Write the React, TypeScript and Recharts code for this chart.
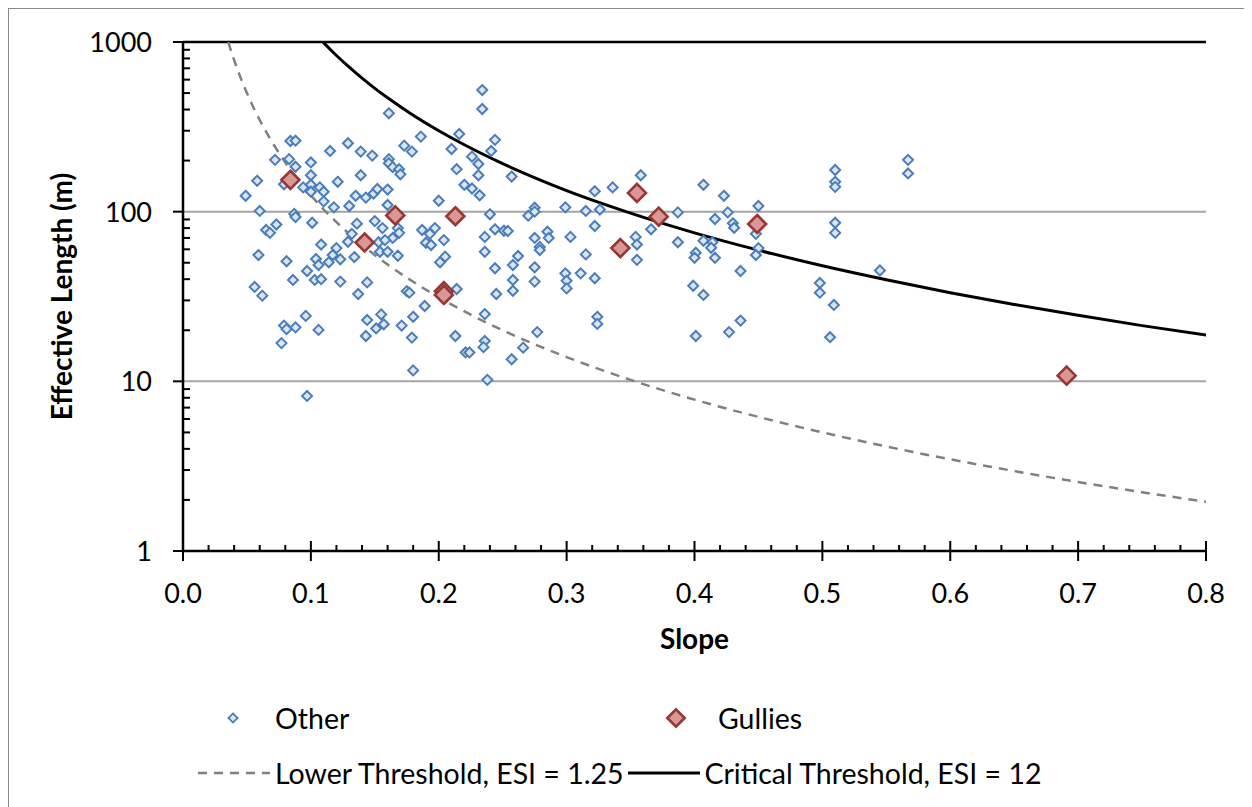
import React from 'react'
import { ComposedChart, Scatter, Line, XAxis, YAxis, ReferenceLine } from 'recharts'

// slope, effective length (m)
const otherPoints: [number, number][] = [
  [0.084, 261], [0.088, 262], [0.115, 228], [0.129, 253], [0.072, 202], [0.083, 204], [0.088, 184], [0.1, 195], [0.1, 164], [0.058, 152],
  [0.079, 145], [0.094, 139], [0.1, 144], [0.1, 131], [0.107, 139], [0.11, 131], [0.121, 150], [0.049, 124], [0.11, 115], [0.118, 106],
  [0.13, 108], [0.06, 101], [0.087, 97], [0.088, 93], [0.101, 86], [0.073, 84], [0.065, 78], [0.068, 75], [0.132, 74], [0.129, 66.5],
  [0.108, 64], [0.12, 61], [0.059, 55.5], [0.117, 55.5], [0.123, 52.4], [0.114, 50.3], [0.104, 52.6], [0.106, 48.5], [0.081, 51], [0.097, 44.7],
  [0.086, 39.6], [0.103, 39.6], [0.108, 40], [0.123, 38.7], [0.056, 36], [0.062, 32], [0.096, 24.3], [0.079, 21.3], [0.081, 20.3], [0.088, 20.8],
  [0.106, 20.1], [0.077, 16.8], [0.097, 8.2],
  [0.161, 380], [0.216, 287], [0.186, 277], [0.173, 245], [0.179, 226], [0.139, 226], [0.148, 214], [0.21, 234], [0.161, 204], [0.161, 193],
  [0.164, 183], [0.169, 178], [0.17, 166], [0.139, 164], [0.214, 178], [0.22, 144], [0.135, 124], [0.143, 121], [0.149, 128], [0.152, 136],
  [0.16, 135], [0.16, 109.5], [0.2, 116], [0.136, 85], [0.15, 88], [0.156, 80], [0.168, 80], [0.169, 75], [0.187, 78], [0.197, 80],
  [0.193, 74], [0.164, 70], [0.204, 68], [0.153, 66], [0.158, 68], [0.154, 58], [0.16, 58], [0.168, 55], [0.134, 54], [0.19, 65.6],
  [0.194, 63.6], [0.205, 54.3], [0.201, 50.3], [0.144, 38.3], [0.137, 32.7], [0.175, 34], [0.177, 33.3], [0.214, 35], [0.189, 27.8], [0.155, 24.8],
  [0.144, 23], [0.151, 20.5], [0.157, 21.7], [0.18, 24], [0.171, 21.3], [0.143, 18.5], [0.179, 18.1], [0.213, 18.5], [0.221, 14.8], [0.18, 11.6],
  [0.234, 521], [0.234, 403], [0.244, 265], [0.241, 228], [0.226, 211], [0.231, 191], [0.231, 164], [0.257, 161], [0.226, 137], [0.232, 125],
  [0.24, 96.5], [0.27, 94.7], [0.275, 105.5], [0.275, 100], [0.299, 106], [0.244, 78.7], [0.251, 77.2], [0.254, 76.9], [0.236, 71], [0.275, 70],
  [0.285, 76.2], [0.286, 70], [0.303, 71], [0.236, 58], [0.279, 62], [0.279, 59.4], [0.262, 54.8], [0.258, 48.5], [0.244, 46.4], [0.275, 47],
  [0.258, 39.6], [0.275, 38.7], [0.258, 34.2], [0.245, 32.7], [0.299, 43.3], [0.3, 39.2], [0.3, 35.3], [0.311, 43.3], [0.236, 24.9], [0.277, 19.5],
  [0.236, 17.3], [0.235, 15.9], [0.224, 14.8], [0.266, 15.8], [0.257, 13.5], [0.238, 10.2],
  [0.358, 164], [0.336, 139], [0.322, 132], [0.407, 144], [0.423, 124], [0.45, 108], [0.315, 101], [0.326, 103], [0.387, 99], [0.426, 99],
  [0.416, 90.5], [0.43, 85.4], [0.431, 80.4], [0.322, 82.3], [0.366, 78.7], [0.354, 71], [0.355, 64], [0.387, 66], [0.407, 67.4], [0.414, 66],
  [0.413, 61.3], [0.448, 74], [0.45, 61], [0.448, 55.5], [0.315, 56], [0.355, 52], [0.401, 57.3], [0.4, 53.5], [0.416, 53.5], [0.322, 40.5],
  [0.436, 44.7], [0.399, 36.6], [0.407, 32.3], [0.324, 24], [0.324, 21.8], [0.436, 22.8], [0.427, 19.5], [0.401, 18.5],
  [0.51, 176], [0.51, 150], [0.51, 140], [0.567, 202], [0.567, 168], [0.51, 86], [0.51, 75], [0.545, 45], [0.498, 38], [0.498, 33.3],
  [0.509, 28.2], [0.506, 18.2],
]

const gullyPoints: [number, number][] = [
  [0.084, 154], [0.166, 95], [0.213, 94], [0.142, 65.8], [0.204, 34], [0.204, 32.3],
  [0.355, 129], [0.372, 93.4], [0.342, 61], [0.449, 84.6], [0.691, 10.8],
]

// threshold curves
const lowerThreshold: [number, number][] = [
  [0.0354, 1000], [0.04, 781], [0.045, 617], [0.05, 500], [0.06, 347], [0.07, 255], [0.08, 195], [0.09, 154],
  [0.1, 125], [0.11, 103], [0.12, 86.8], [0.14, 63.8], [0.16, 48.8], [0.18, 38.6], [0.2, 31.25], [0.225, 24.7],
  [0.25, 20], [0.3, 13.9], [0.35, 10.2], [0.4, 7.8], [0.45, 6.17], [0.5, 5], [0.55, 4.13], [0.6, 3.47],
  [0.65, 2.96], [0.7, 2.55], [0.75, 2.22], [0.8, 1.95],
]

const criticalThreshold: [number, number][] = [
  [0.1095, 1000], [0.115, 907], [0.12, 833], [0.13, 710], [0.14, 612], [0.15, 533], [0.16, 469], [0.18, 370],
  [0.2, 300], [0.22, 248], [0.25, 192], [0.28, 153], [0.3, 133], [0.35, 98], [0.4, 75], [0.45, 59.3],
  [0.5, 48], [0.55, 39.7], [0.6, 33.3], [0.65, 28.4], [0.7, 24.5], [0.75, 21.3], [0.8, 18.75],
]

const xTicks = [
  0, 0.02, 0.04, 0.06, 0.08, 0.1, 0.12, 0.14, 0.16, 0.18, 0.2, 0.22, 0.24, 0.26, 0.28, 0.3, 0.32, 0.34, 0.36, 0.38, 0.4,
  0.42, 0.44, 0.46, 0.48, 0.5, 0.52, 0.54, 0.56, 0.58, 0.6, 0.62, 0.64, 0.66, 0.68, 0.7, 0.72, 0.74, 0.76, 0.78, 0.8,
]
const yTicks = [
  1, 2, 3, 4, 5, 6, 7, 8, 9, 10, 20, 30, 40, 50, 60, 70, 80, 90, 100,
  200, 300, 400, 500, 600, 700, 800, 900, 1000,
]
const yMajor = [1, 10, 100, 1000]

const toXY = (pts: [number, number][]) => pts.map(([x, y]) => ({ x, y }))

const FONT = 'Lato, "Open Sans", sans-serif'

const diamond = (r: number, fill: string, stroke: string, sw: number) => (props: any) => {
  const { cx, cy } = props
  if (cx == null || cy == null) return <g />
  return (
    <path
      d={`M${cx},${cy - r}L${cx + r},${cy}L${cx},${cy + r}L${cx - r},${cy}Z`}
      fill={fill}
      stroke={stroke}
      strokeWidth={sw}
    />
  )
}

const OtherShape = diamond(5, '#dce6f2', '#4a7ebb', 2)
const GullyShape = diamond(9, '#d99795', '#953735', 2.6)

const XTick = (props: any) => {
  const { x, y, payload } = props
  const v = payload.value as number
  const major = Math.abs(v * 10 - Math.round(v * 10)) < 1e-6
  return (
    <g>
      <line x1={x} x2={x} y1={y - (major ? 10 : 6)} y2={y + (major ? 10 : 0)} stroke="#000" strokeWidth={2} />
      {major && (
        <text x={x} y={y + 52} textAnchor="middle" fontSize={27} fill="#000" fontFamily={FONT}>
          {v.toFixed(1)}
        </text>
      )}
    </g>
  )
}

const YTick = (props: any) => {
  const { x, y, payload } = props
  const v = payload.value as number
  const major = yMajor.includes(v)
  return (
    <g>
      {major ? (
        <line x1={x - 10} x2={x} y1={y} y2={y} stroke="#000" strokeWidth={2} />
      ) : (
        <line x1={x} x2={x + 7} y1={y} y2={y} stroke="#000" strokeWidth={2} />
      )}
      {major && (
        <text x={x - 31} y={y + 10} textAnchor="end" fontSize={27} fill="#000" fontFamily={FONT}>
          {v}
        </text>
      )}
    </g>
  )
}

export default function App() {
  const titleStyle = { fontSize: 28, fontWeight: 700, fill: '#000', fontFamily: FONT }
  return (
    <div
      style={{
        position: 'relative',
        width: 1243,
        height: 798,
        border: '1px solid #898989',
        background: '#fff',
        fontFamily: FONT,
      }}
    >
      <ComposedChart width={1243} height={790} margin={{ top: 33, right: 46, bottom: 188, left: 0 }}>
        <XAxis
          type="number"
          dataKey="x"
          domain={[0, 0.8]}
          ticks={xTicks}
          interval={0}
          allowDataOverflow
          tickLine={false}
          tickSize={0}
          tickMargin={0}
          height={60}
          axisLine={{ stroke: '#000', strokeWidth: 2.5 }}
          tick={<XTick />}
          label={{ value: 'Slope', position: 'insideTop', offset: 78, style: titleStyle }}
        />
        <YAxis
          type="number"
          dataKey="y"
          scale="log"
          domain={[1, 1000]}
          ticks={yTicks}
          interval={0}
          allowDataOverflow
          tickLine={false}
          tickSize={0}
          tickMargin={0}
          width={174}
          axisLine={{ stroke: '#000', strokeWidth: 2.5 }}
          tick={<YTick />}
          label={{
            value: 'Effective Length (m)',
            angle: -90,
            position: 'insideLeft',
            offset: 53,
            style: { ...titleStyle, textAnchor: 'middle' },
          }}
        />
        <ReferenceLine y={10} stroke="#a5a5a5" strokeWidth={2} />
        <ReferenceLine y={100} stroke="#a5a5a5" strokeWidth={2} />
        <ReferenceLine y={1000} stroke="#000" strokeWidth={2.5} />
        <Line
          data={toXY(lowerThreshold)}
          dataKey="y"
          type="monotone"
          stroke="#808080"
          strokeWidth={2.5}
          strokeDasharray="9 7"
          dot={false}
          activeDot={false}
          isAnimationActive={false}
        />
        <Line
          data={toXY(criticalThreshold)}
          dataKey="y"
          type="monotone"
          stroke="#000"
          strokeWidth={3}
          dot={false}
          activeDot={false}
          isAnimationActive={false}
        />
        <Scatter data={toXY(otherPoints)} dataKey="y" shape={OtherShape} isAnimationActive={false} />
        <Scatter data={toXY(gullyPoints)} dataKey="y" shape={GullyShape} isAnimationActive={false} />
      </ComposedChart>

      {/* legend */}
      <div style={{ position: 'absolute', left: 216, top: 689, height: 40, display: 'flex', alignItems: 'center', fontSize: 28.5 }}>
        <svg width={16} height={16}>
          <path d="M8,3.4L12.6,8L8,12.6L3.4,8Z" fill="#dce6f2" stroke="#4a7ebb" strokeWidth={1.8} />
        </svg>
        <span style={{ marginLeft: 34 }}>Other</span>
      </div>
      <div style={{ position: 'absolute', left: 655, top: 689, height: 40, display: 'flex', alignItems: 'center', fontSize: 28.5 }}>
        <svg width={24} height={24}>
          <path d="M12,3.3L20.7,12L12,20.7L3.3,12Z" fill="#d99795" stroke="#953735" strokeWidth={2.6} />
        </svg>
        <span style={{ marginLeft: 30 }}>Gullies</span>
      </div>
      <div style={{ position: 'absolute', left: 189, top: 744, height: 40, display: 'flex', alignItems: 'center', fontSize: 28.5 }}>
        <svg width={72} height={6}>
          <line x1={0} x2={72} y1={3} y2={3} stroke="#808080" strokeWidth={2.5} strokeDasharray="9 7" />
        </svg>
        <span style={{ marginLeft: 5 }}>Lower Threshold, ESI = 1.25</span>
        <svg width={72} height={6} style={{ marginLeft: 4 }}>
          <line x1={0} x2={72} y1={3} y2={3} stroke="#000" strokeWidth={3} />
        </svg>
        <span style={{ marginLeft: 5 }}>Critical Threshold, ESI = 12</span>
      </div>
    </div>
  )
}
